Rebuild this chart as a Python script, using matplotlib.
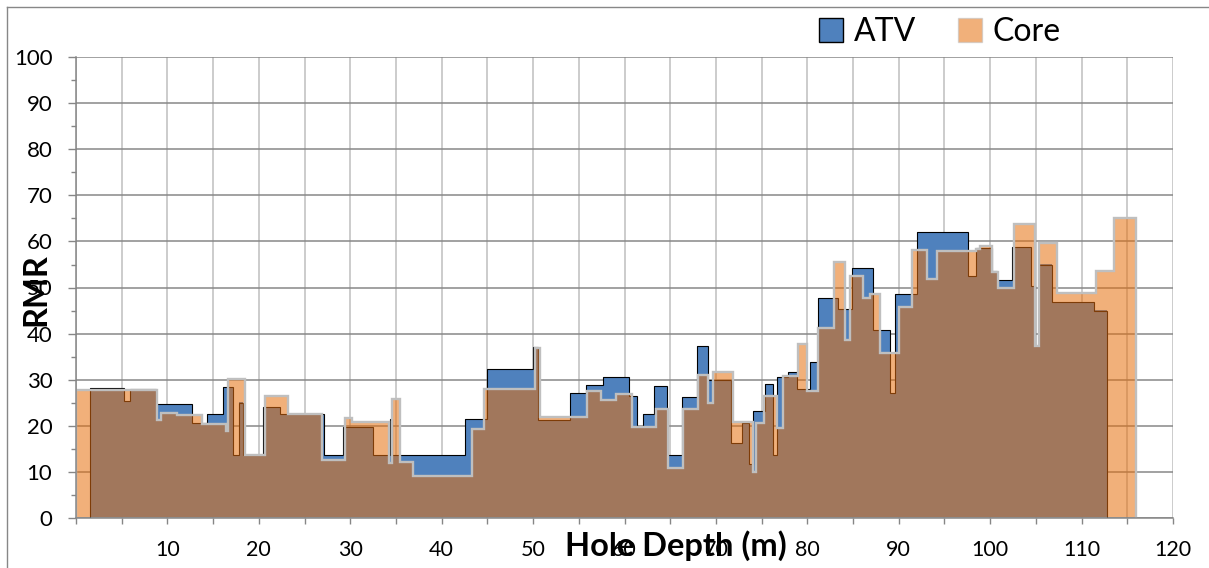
import matplotlib
matplotlib.use("Agg")
import matplotlib.pyplot as plt
from matplotlib.patches import Patch
from matplotlib.lines import Line2D

plt.rcParams['font.family'] = ['Lato', 'DejaVu Sans']

# ---------------- data (step series: segment start depth, RMR value) -------------
atv_start = [1.5, 5.2, 5.9, 8.8, 12.7, 14.3, 16.1, 17.2, 17.8, 18.3, 20.5, 22.3,
             27.1, 29.2, 32.5, 34.3, 34.6, 42.6, 45.0, 50.0, 50.5, 54.0, 55.8,
             57.6, 60.5, 61.4, 62.0, 63.2, 64.7, 66.3, 67.9, 69.1, 71.6, 72.9,
             73.6, 74.1, 75.4, 76.2, 76.7, 77.9, 78.85, 80.3, 81.2, 83.4, 84.9,
             87.2, 89.0, 89.6, 92.0, 97.6, 98.5, 100.2, 100.7, 102.4, 104.5,
             104.9, 105.3, 106.8, 111.4]
atv_value = [28.2, 25.4, 28.0, 24.7, 20.5, 22.6, 28.3, 13.6, 25.0, 13.6, 24.1, 22.6,
             13.6, 19.7, 13.6, 21.4, 13.6, 21.4, 32.3, 37.1, 21.2, 27.0, 28.7,
             30.5, 26.5, 19.9, 22.5, 28.6, 13.6, 26.3, 37.3, 29.9, 16.3, 20.5,
             11.6, 23.2, 29.0, 13.6, 30.6, 31.7, 28.0, 33.7, 47.7, 45.3, 54.3,
             40.7, 27.1, 48.5, 62.0, 52.5, 58.5, 53.6, 51.6, 58.9, 50.3,
             37.3, 55.0, 46.9, 45.0]
atv_end = 112.8

core_start = [0.0, 8.9, 9.3, 11.0, 13.75, 16.45, 16.6, 18.5, 20.7, 23.2, 26.9,
              29.4, 30.2, 34.2, 34.6, 35.4, 36.9, 43.3, 44.6, 50.2, 50.8, 55.9,
              57.4, 59.1, 60.8, 63.5, 64.8, 66.4, 68.0, 69.1, 69.7, 71.9, 74.1,
              74.4, 75.3, 76.7, 77.3, 79.0, 79.95, 81.2, 82.9, 84.1, 84.7, 86.1,
              86.9, 87.9, 90.0, 91.4, 93.1, 94.2, 98.5, 98.9, 100.2, 100.9,
              102.6, 104.9, 105.3, 107.3, 111.6, 113.6]
core_value = [27.7, 21.2, 22.8, 22.3, 20.3, 18.8, 30.1, 13.6, 26.5, 22.6, 12.6,
              21.7, 20.8, 11.8, 25.8, 12.0, 9.1, 19.2, 27.9, 36.8, 21.8, 27.6,
              25.5, 26.8, 19.7, 23.6, 10.8, 23.6, 31.0, 25.0, 31.7, 20.8, 10.0,
              20.5, 26.4, 19.4, 30.8, 37.7, 27.6, 41.3, 55.6, 38.6, 52.4, 47.8,
              48.6, 35.8, 45.7, 58.2, 51.8, 57.9, 58.4, 59.0, 53.4, 49.8,
              63.7, 37.3, 59.7, 48.7, 53.6, 65.0]
core_end = 115.9

series_names = ["ATV", "Core"]
x_ticks = [0, 10, 20, 30, 40, 50, 60, 70, 80, 90, 100, 110, 120]
x_tick_labels = ["", "10", "20", "30", "40", "50", "60", "70", "80", "90", "100", "110", "120"]
y_ticks = [0, 10, 20, 30, 40, 50, 60, 70, 80, 90, 100]
x_label = "Hole Depth (m)"
y_label = "RMR"

# ---------------- styling -------------
W, H = 1209, 568
ATV_COLOR = "#4F81BD"
CORE_COLOR = "#E66F0D"
CORE_ALPHA = 0.55
CORE_EDGE = "#BFBFBF"


def fill_xy(starts, vals, end):
    xs = list(starts) + [end]
    ys = list(vals) + [vals[-1]]
    return xs, ys


def outline_xy(starts, vals, end):
    edges = list(starts) + [end]
    px, py = [edges[0]], [0]
    for i, v in enumerate(vals):
        px += [edges[i], edges[i + 1]]
        py += [v, v]
    px.append(end)
    py.append(0)
    return px, py


fig = plt.figure(figsize=(W / 100, H / 100), dpi=100)
ax = fig.add_axes([76 / W, 50.5 / H, 1097 / W, 460 / H])

# ATV (opaque, black outline)
xs, ys = fill_xy(atv_start, atv_value, atv_end)
ax.fill_between(xs, ys, step="post", color=ATV_COLOR, linewidth=0, zorder=2)
ox, oy = outline_xy(atv_start, atv_value, atv_end)
ax.plot(ox, oy, color="black", lw=0.8, zorder=2.5, solid_joinstyle="miter")

# Core (semi-transparent on top, grey outline)
xs, ys = fill_xy(core_start, core_value, core_end)
ax.fill_between(xs, ys, step="post", color=CORE_COLOR, alpha=CORE_ALPHA,
                linewidth=0, zorder=3)
ox, oy = outline_xy(core_start, core_value, core_end)
ax.plot(ox, oy, color=CORE_EDGE, lw=1.7, zorder=4, solid_joinstyle="miter")

ax.set_xlim(0, 120)
ax.set_ylim(0, 100)

ax.set_xticks(x_ticks)
ax.set_xticklabels(x_tick_labels)
ax.set_xticks(range(5, 120, 10), minor=True)
ax.set_yticks(y_ticks)
ax.set_yticks(range(5, 100, 10), minor=True)

ax.set_axisbelow(True)
ax.grid(axis="y", which="major", color="#878787", lw=1.1)
ax.grid(axis="x", which="both", color="#BFBFBF", lw=1.1)

for s in ["top", "right"]:
    ax.spines[s].set_visible(False)
for s in ["left", "bottom"]:
    ax.spines[s].set_color("#868686")
    ax.spines[s].set_linewidth(1.1)
    ax.spines[s].set_zorder(5)

ax.tick_params(axis="x", which="both", direction="out", length=4.3, width=1,
               color="#868686", pad=12, labelsize=15.5, labelcolor="black")
ax.tick_params(axis="y", which="major", direction="out", length=6, width=1,
               color="#868686", pad=11, labelsize=16, labelcolor="black")
ax.tick_params(axis="y", which="minor", direction="out", length=3.6, width=1,
               color="#868686")

# axis titles (overlapping tick labels like the reference)
fig.text(676 / W, 1 - 546 / H, x_label, fontsize=23.5, fontweight="bold",
         ha="center", va="center")
fig.text(36 / W, 1 - 290 / H, y_label, fontsize=23.5, fontweight="bold",
         ha="center", va="center", rotation=90)

# legend
handles = [Patch(facecolor=ATV_COLOR, edgecolor="black", lw=1.0),
           Patch(facecolor=CORE_COLOR, alpha=CORE_ALPHA, edgecolor=CORE_EDGE, lw=1.0)]
fig.legend(handles, series_names, loc="center", bbox_to_anchor=(940 / W, 1 - 32 / H),
           ncol=2, frameon=False, fontsize=23, handlelength=0.75, handleheight=0.75,
           handletextpad=0.35, columnspacing=1.3, borderpad=0)

# outer chart frame
fig.add_artist(Line2D([7 / W, 7 / W], [0, 1 - 7 / H], color="#878787", lw=1.0))
fig.add_artist(Line2D([7 / W, 1], [1 - 7 / H, 1 - 7 / H], color="#878787", lw=1.0))

fig.savefig("out.png", dpi=100)
